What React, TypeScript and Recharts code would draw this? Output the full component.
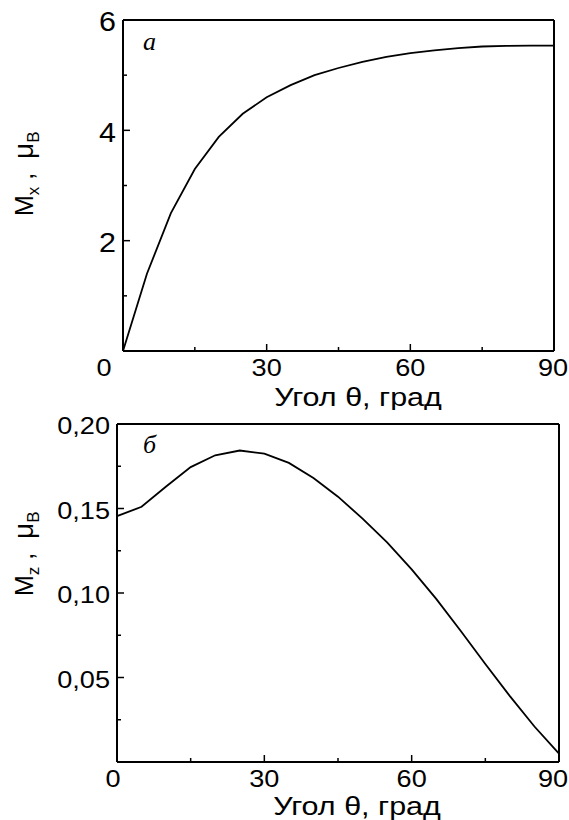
import { LineChart, Line, XAxis, YAxis, Label } from 'recharts';

// угол θ, град (шаг 5°)
const theta = [0, 5, 10, 15, 20, 25, 30, 35, 40, 45, 50, 55, 60, 65, 70, 75, 80, 85, 90];
// M_x, μB
const mx = [0, 1.4, 2.5, 3.3, 3.88, 4.3, 4.6, 4.82, 5.0, 5.13, 5.24, 5.33, 5.4, 5.45, 5.49, 5.52, 5.53, 5.535, 5.535];
// M_z, μB
const mz = [0.1455, 0.151, 0.163, 0.1745, 0.1815, 0.1843, 0.1825, 0.177, 0.168, 0.157, 0.144, 0.13, 0.114, 0.0965, 0.0775, 0.058, 0.039, 0.021, 0.005];

const xTicks = [0, 15, 30, 45, 60, 75, 90];
const xLabels = [0, 30, 60, 90];
const mxTicks = [0, 1, 2, 3, 4, 5, 6];
const mxLabels = [2, 4, 6];
const mzTicks = [0, 0.025, 0.05, 0.075, 0.1, 0.125, 0.15, 0.175, 0.2];
const mzLabels = [0.05, 0.1, 0.15, 0.2];

const dataX = theta.map((t, i) => ({ theta: t, m: mx[i] }));
const dataZ = theta.map((t, i) => ({ theta: t, m: mz[i] }));

const SANS = '"Liberation Sans", Arial, Helvetica, sans-serif';
const SERIF = '"Liberation Serif", "Times New Roman", serif';
const NB = '\u00a0';
// the original lettering is a bit wider than Arial
const WIDE = 1.13;

const makeXTick = (shift: Record<number, number>) => (props: any) => {
  const { x, y, payload } = props;
  const v = payload.value;
  const major = xLabels.includes(v);
  return (
    <g>
      <line x1={x} y1={y} x2={x} y2={y - (major ? 7 : 4)} stroke="#000" strokeWidth={1.5} />
      {major && (
        <text transform={`translate(${x + (shift[v] ?? 0)}, ${y + 17}) scale(${WIDE}, 1)`}
          textAnchor="middle" dominantBaseline="central" fontFamily={SANS} fontSize={24} fill="#000">
          {v}
        </text>
      )}
    </g>
  );
};

const makeYTick = (labels: number[], fmt: (v: number) => string, size: number) => (props: any) => {
  const { x, y, payload } = props;
  const v = payload.value;
  const major = labels.some((l) => Math.abs(l - v) < 1e-9);
  return (
    <g>
      <line x1={x} y1={y} x2={x + (major ? 7 : 4)} y2={y} stroke="#000" strokeWidth={1.5} />
      {major && (
        <text transform={`translate(${x - 7}, ${y + 2}) scale(${WIDE}, 1)`} textAnchor="end"
          dominantBaseline="central" fontFamily={SANS} fontSize={size} fill="#000">
          {fmt(v)}
        </text>
      )}
    </g>
  );
};

const xTitle = (cy: number, cx: number) => () => (
  <text transform={`translate(${cx}, ${cy}) scale(1.22, 1)`} textAnchor="middle" dominantBaseline="central"
    fontFamily={SANS} fontSize={25} fill="#000">
    Угол θ, град
  </text>
);

const yTitle = (startY: number, sub: string, panel: string, panelY: number) => () => (
  <g>
    <text transform={`translate(33, ${startY}) rotate(-90)`} fontFamily={SANS} fontSize={25} fill="#000">
      M
      <tspan fontSize={17} dy={6}>{sub}</tspan>
      <tspan dy={-6}>{`${NB},${NB}${NB}`}</tspan>
      <tspan fontSize={28}>μ</tspan>
      <tspan fontSize={17} dy={6}>B</tspan>
    </text>
    <text x={143} y={panelY} fontFamily={SERIF} fontStyle="italic" fontSize={26} fill="#000">
      {panel}
    </text>
  </g>
);

const axisLine = { stroke: '#000', strokeWidth: 2 };

export default function App() {
  return (
    <div style={{ position: 'absolute', left: 0, top: 0, width: 569, height: 820, background: '#fff' }}>
      <LineChart width={569} height={410} data={dataX} margin={{ top: 19, right: 14, bottom: 29, left: 63 }}>
        <XAxis dataKey="theta" type="number" domain={[0, 90]} ticks={xTicks} height={30}
          tickSize={0} tickMargin={0} tickLine={false} axisLine={axisLine}
          tick={makeXTick({ 0: -19, 90: -1 })} interval={0}>
          <Label content={xTitle(397, 358)} />
        </XAxis>
        <XAxis xAxisId="top" orientation="top" dataKey="theta" type="number" domain={[0, 90]}
          height={1} tick={false} tickLine={false} axisLine={axisLine} />
        <YAxis type="number" domain={[0, 6]} ticks={mxTicks} width={60} tickSize={0} tickMargin={0}
          tickLine={false} axisLine={axisLine} interval={0}
          tick={makeYTick(mxLabels, (v) => String(v), 27)}>
          <Label content={yTitle(216, 'x', 'a', 50)} />
        </YAxis>
        <YAxis yAxisId="right" orientation="right" type="number" domain={[0, 6]} width={1}
          tick={false} tickLine={false} axisLine={axisLine} />
        <Line type="linear" dataKey="m" stroke="#000" strokeWidth={1.8} dot={false} isAnimationActive={false} />
      </LineChart>
      <LineChart width={569} height={410} data={dataZ} margin={{ top: 13, right: 9, bottom: 28, left: 57 }}>
        <XAxis dataKey="theta" type="number" domain={[0, 90]} ticks={xTicks} height={30}
          tickSize={0} tickMargin={0} tickLine={false} axisLine={axisLine}
          tick={makeXTick({ 0: -4, 90: -6 })} interval={0}>
          <Label content={xTitle(396, 357)} />
        </XAxis>
        <XAxis xAxisId="top" orientation="top" dataKey="theta" type="number" domain={[0, 90]}
          height={1} tick={false} tickLine={false} axisLine={axisLine} />
        <YAxis type="number" domain={[0, 0.2]} ticks={mzTicks} width={60} tickSize={0} tickMargin={0}
          tickLine={false} axisLine={axisLine} interval={0}
          tick={makeYTick(mzLabels, (v) => v.toFixed(2).replace('.', ','), 24)}>
          <Label content={yTitle(186, 'z', 'б', 43)} />
        </YAxis>
        <YAxis yAxisId="right" orientation="right" type="number" domain={[0, 0.2]} width={1}
          tick={false} tickLine={false} axisLine={axisLine} />
        <Line type="linear" dataKey="m" stroke="#000" strokeWidth={1.8} dot={false} isAnimationActive={false} />
      </LineChart>
    </div>
  );
}
